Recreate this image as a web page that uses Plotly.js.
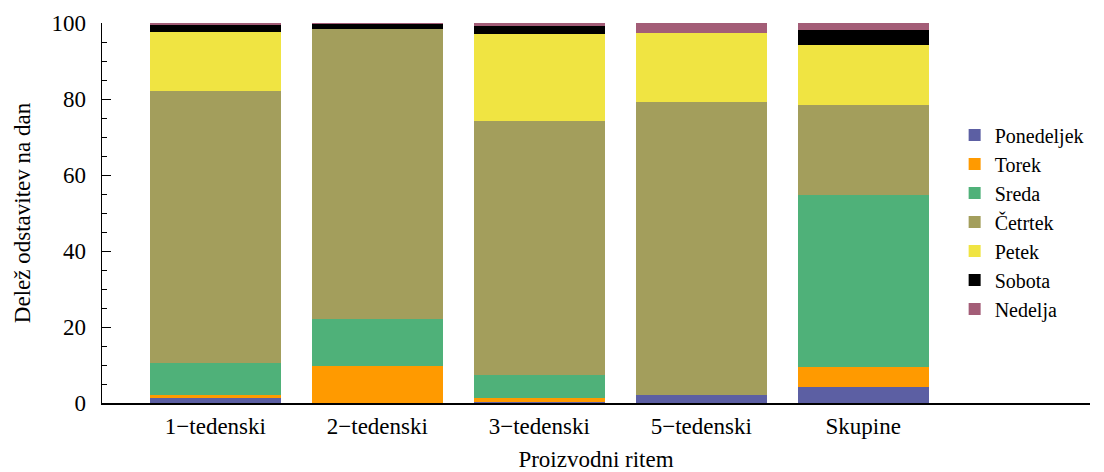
<!DOCTYPE html>
<html>
<head>
<meta charset="utf-8">
<script src="https://cdn.plot.ly/plotly-3.0.1.min.js"></script>
<style>html,body{margin:0;padding:0;background:#fff;}#chart{width:1104px;height:472px;}</style>
</head>
<body>
<div id="chart"></div>
<script>
const categories = ["1\u2212tedenski", "2\u2212tedenski", "3\u2212tedenski", "5\u2212tedenski", "Skupine"];
const dayNames = ["Ponedeljek", "Torek", "Sreda", "\u010cetrtek", "Petek", "Sobota", "Nedelja"];
const ponedeljek = [1.4, 0.0, 0.3, 2.0, 4.1];
const torek      = [0.6, 9.8, 1.1, 0.0, 5.5];
const sreda      = [8.6, 12.4, 5.9, 0.0, 45.1];
const cetrtek    = [71.4, 76.3, 66.9, 77.2, 23.8];
const petek      = [15.7, 0.0, 22.8, 18.3, 15.8];
const sobota     = [1.8, 1.3, 2.2, 0.0, 3.9];
const nedelja    = [0.5, 0.2, 0.8, 2.5, 1.8];
const seriesValues = [ponedeljek, torek, sreda, cetrtek, petek, sobota, nedelja];
const colors = ["#5c5fa3", "#ff9a00", "#4fb179", "#a39e5c", "#f0e442", "#000000", "#a35d77"];

const traces = dayNames.map((name, i) => ({
  type: "bar",
  name: name,
  x: categories,
  y: seriesValues[i],
  marker: {color: colors[i], line: {width: 0}},
  hoverinfo: "name+y"
}));

const font = {family: "'Liberation Serif', 'Times New Roman', 'DejaVu Serif', serif", color: "#000"};

const layout = {
  width: 1104, height: 472,
  margin: {l: 102, r: 14, t: 23, b: 69},
  barmode: "stack",
  bargap: 0.19,
  paper_bgcolor: "#fff",
  plot_bgcolor: "#fff",
  font: Object.assign({size: 22}, font),
  showlegend: true,
  legend: {
    x: 0.863, xanchor: "left", y: 0.476, yanchor: "middle",
    traceorder: "normal",
    font: Object.assign({size: 20}, font),
    itemwidth: 30,
    tracegroupgap: 0,
    bgcolor: "rgba(0,0,0,0)"
  },
  xaxis: {
    type: "category",
    range: [-0.7, 5.4],
    showline: true, linecolor: "#000", linewidth: 1.5,
    ticks: "", showgrid: false, zeroline: false,
    ticklabelstandoff: 2,
    tickfont: Object.assign({size: 23}, font),
    title: {text: "Proizvodni ritem", font: Object.assign({size: 23}, font), standoff: 16}
  },
  yaxis: {
    range: [0, 100],
    showline: true, linecolor: "#000", linewidth: 1.5,
    ticks: "inside", ticklen: 9, tickwidth: 1, tickcolor: "#000",
    tickvals: [0, 20, 40, 60, 80, 100],
    minor: {ticks: "inside", ticklen: 5, dtick: 5, tickcolor: "#000", tickwidth: 1},
    showgrid: false, zeroline: false,
    ticklabelstandoff: 10,
    tickfont: Object.assign({size: 23}, font),
    title: {text: "Dele\u017e odstavitev na dan", font: Object.assign({size: 23}, font), standoff: 14}
  }
};

Plotly.newPlot("chart", traces, layout, {displayModeBar: false, staticPlot: true});
</script>
</body>
</html>
